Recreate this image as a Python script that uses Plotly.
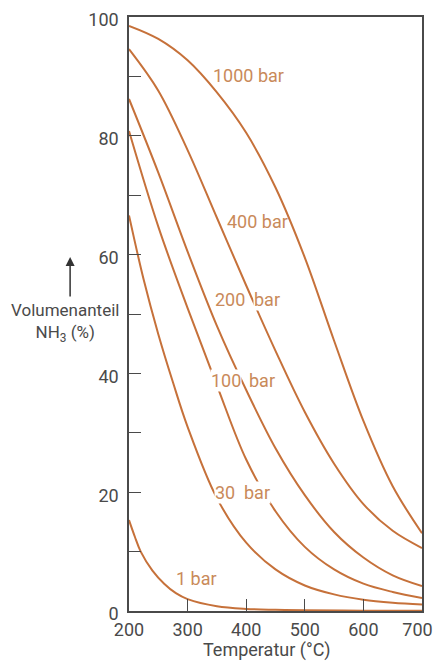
import plotly.graph_objects as go

# --- data ---
temps = [200, 250, 300, 350, 400, 450, 500, 550, 600, 650, 700]
p1000 = [98.5, 96.3, 92.7, 87.3, 80.5, 71.3, 59.5, 45.5, 32.0, 21.0, 13.1]
p400 = [94.6, 87.6, 77.6, 66.2, 54.8, 43.8, 33.5, 24.8, 18.0, 13.5, 10.6]
p200 = [86.2, 73.8, 60.5, 48.0, 37.2, 27.4, 19.5, 13.3, 9.0, 6.0, 4.2]
p100 = [80.8, 64.7, 51.0, 38.0, 25.5, 16.8, 10.8, 7.0, 4.6, 3.2, 2.2]

temps30 = [200, 225, 250, 275, 300, 350, 400, 450, 500, 550, 600, 650, 700]
p30 = [66.6, 55.8, 46.6, 38.5, 31.0, 19.0, 11.5, 7.0, 4.3, 2.8, 1.9, 1.4, 1.1]

temps1 = [200, 210, 220, 240, 260, 280, 300, 350, 400, 450, 500, 600, 700]
p1 = [15.3, 12.5, 10.0, 6.8, 4.6, 3.0, 2.0, 0.8, 0.35, 0.2, 0.12, 0.06, 0.03]

x_ticks = [200, 300, 400, 500, 600, 700]
x_tick_labels = ["200", "300", "400", "500", "600", "700\u00a0\u00a0"]
y_ticks = [0, 20, 40, 60, 80, 100]

LINE = "#c6713a"
TXT = "#c98a5a"
AX = "#4a4a4a"
FONT = "Roboto, Noto Sans, sans-serif"

fig = go.Figure()
for xs, ys in [(temps, p1000), (temps, p400), (temps, p200), (temps, p100),
               (temps30, p30), (temps1, p1)]:
    fig.add_trace(go.Scatter(x=xs, y=ys, mode="lines",
                             line=dict(color=LINE, width=2, shape="spline", smoothing=1.0),
                             showlegend=False, hoverinfo="skip"))

# curve labels (data coordinates)
def lab(text, x, y, xanchor="center", bg=None):
    fig.add_annotation(x=x, y=y, text=text, showarrow=False, xanchor=xanchor,
                       yanchor="middle", font=dict(family=FONT, size=18, color=TXT),
                       bgcolor=bg, borderpad=0)

lab("1000 bar", 404, 90.2)
lab("400 bar", 420, 65.6)
lab("200", 399.7, 52.4, "right", "white")
lab("bar", 411.6, 52.4, "left", "white")
lab("100", 392.8, 38.8, "right", "white")
lab("bar", 403, 38.8, "left", "white")
lab("30", 382.6, 20.0, "right", "white")
lab("bar", 394.5, 20.0, "left", "white")
lab("1 bar", 316, 5.4)

# y-axis title with arrow
fig.add_annotation(xref="paper", yref="paper", x=-0.218, y=0.485, xanchor="center",
                   yanchor="middle",
                   text="Volumenanteil<br>NH<sub>3</sub> (%)", showarrow=False,
                   font=dict(family=FONT, size=17, color=AX), align="center")
fig.add_annotation(xref="paper", yref="paper", x=-0.201, y=0.596, text="",
                   showarrow=True, ax=0, ay=41, arrowhead=2, arrowsize=1.2,
                   arrowwidth=1.5, arrowcolor="#333")
# x-axis title
fig.add_annotation(xref="paper", yref="paper", x=0.468, y=-0.066, xanchor="center",
                   text="Temperatur (°C)", showarrow=False, yanchor="middle",
                   font=dict(family=FONT, size=18, color=AX))

fig.update_xaxes(range=[200, 700], tickvals=x_ticks, ticktext=x_tick_labels,
                 ticks="inside", ticklen=12,
                 tickcolor=AX, tickwidth=1.2, showline=True, linecolor=AX,
                 linewidth=1.5, mirror=True, showgrid=False, zeroline=False,
                 automargin=False, ticklabelstandoff=2, ticklabeloverflow="allow",
                 tickfont=dict(family=FONT, size=18, color=AX))
fig.update_yaxes(range=[0, 100], tickvals=y_ticks, ticks="inside", ticklen=12,
                 tickcolor=AX, tickwidth=1.2, showline=True, linecolor=AX,
                 linewidth=1.5, mirror=True, showgrid=False, zeroline=False,
                 automargin=False, ticklabelstandoff=5, ticklabeloverflow="allow",
                 ticklabelshift=3,
                 minor=dict(dtick=10, ticks="inside", ticklen=12, tickcolor=AX,
                            tickwidth=1.2, showgrid=False),
                 tickfont=dict(family=FONT, size=18, color=AX))

# page body has an 8px margin, so the figure is 8px smaller and offset
fig.update_layout(width=433, height=654, margin=dict(l=121, r=19, t=9, b=51),
                  paper_bgcolor="white", plot_bgcolor="white",
                  font=dict(family=FONT))
fig.write_html("out.html")
